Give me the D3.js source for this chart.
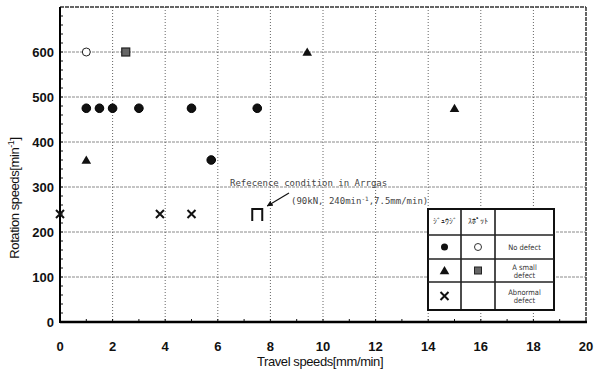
<!DOCTYPE html>
<html>
<head>
<meta charset="utf-8">
<script src="https://cdn.jsdelivr.net/npm/d3@7"></script>
<style>
  html, body { margin: 0; padding: 0; background: #fff; }
  svg { display: block; }
  .tick-lbl { font-family: "Liberation Sans", Arial, sans-serif; font-weight: 700; font-size: 13px; fill: #111; }
  .axis-title { font-family: "Liberation Sans", Arial, sans-serif; font-size: 13px; fill: #111; letter-spacing: -0.4px; }
  .note { font-family: "DejaVu Sans Mono", monospace; font-size: 9px; fill: #444; }
  .leg { font-family: "DejaVu Sans Condensed", sans-serif; font-size: 7.5px; fill: #333; }
</style>
</head>
<body>
<svg id="chart" width="595" height="372"></svg>
<script>
// data: [travel speed mm/min, rotation speed min^-1]
const xTicks = [0, 2, 4, 6, 8, 10, 12, 14, 16, 18, 20];
const yTicks = [0, 100, 200, 300, 400, 500, 600];
const noDefectA = [[1, 475], [1.5, 475], [2, 475], [3, 475], [5, 475], [7.5, 475], [5.75, 360]];
const noDefectB = [[1, 600]];
const smallDefectA = [[1, 360], [9.4, 600], [15, 475]];
const smallDefectB = [[2.5, 600]];
const abnormalDefect = [[0, 240], [3.8, 240], [5, 240]];
const referencePoint = [[7.5, 240]];
const legendHeaders = ['ｼﾞｭｳｼﾞ', 'ｽﾎﾟｯﾄ'];
const legendRows = [['No defect'], ['A small', 'defect'], ['Abnormal', 'defect']];

const width = 595, height = 372;
const margin = { top: 7, right: 9, bottom: 50, left: 60 };
const iw = width - margin.left - margin.right;
const ih = height - margin.top - margin.bottom;

const svg = d3.select('#chart');
const x = d3.scaleLinear().domain([0, 20]).range([0, iw]);
const y = d3.scaleLinear().domain([0, 700]).range([ih, 0]);

const g = svg.append('g').attr('transform', `translate(${margin.left},${margin.top})`);

// grid
g.append('g').selectAll('line').data(yTicks.filter(d => d > 0)).enter().append('line')
  .attr('x1', 0).attr('x2', iw).attr('y1', d => y(d)).attr('y2', d => y(d))
  .attr('stroke', '#8a8a8a').attr('stroke-width', 1).attr('stroke-dasharray', '3,1');
g.append('g').selectAll('line').data(xTicks.filter(d => d > 0 && d < 20)).enter().append('line')
  .attr('y1', 0).attr('y2', ih).attr('x1', d => x(d)).attr('x2', d => x(d))
  .attr('stroke', '#666').attr('stroke-width', 1).attr('stroke-dasharray', '1,2');

// frame: top / right thinner, bottom / left heavy
g.append('line').attr('x1', 0).attr('x2', iw).attr('y1', 0).attr('y2', 0)
  .attr('stroke', '#333').attr('stroke-width', 1.5).attr('stroke-dasharray', '4,1');
g.append('line').attr('x1', iw).attr('x2', iw).attr('y1', 0).attr('y2', ih)
  .attr('stroke', '#333').attr('stroke-width', 1.5).attr('stroke-dasharray', '4,1');

// minor ticks (inside)
g.append('g').selectAll('line').data(d3.range(1, 20)).enter().append('line')
  .attr('x1', d => x(d)).attr('x2', d => x(d)).attr('y1', ih).attr('y2', ih - 3)
  .attr('stroke', '#111').attr('stroke-width', 1);
g.append('g').selectAll('line').data(d3.range(20, 700, 20)).enter().append('line')
  .attr('y1', d => y(d)).attr('y2', d => y(d)).attr('x1', 0).attr('x2', 3)
  .attr('stroke', '#111').attr('stroke-width', 1);

g.append('line').attr('x1', 0).attr('x2', iw + 1).attr('y1', ih).attr('y2', ih)
  .attr('stroke', '#000').attr('stroke-width', 2.5);
g.append('line').attr('x1', 0).attr('x2', 0).attr('y1', 0).attr('y2', ih + 1)
  .attr('stroke', '#000').attr('stroke-width', 2);

// tick labels
g.append('g').selectAll('text').data(xTicks).enter().append('text')
  .attr('class', 'tick-lbl').attr('x', d => x(d)).attr('y', ih + 29)
  .attr('text-anchor', 'middle').text(d => d);
g.append('g').selectAll('text').data(yTicks).enter().append('text')
  .attr('class', 'tick-lbl').attr('x', -6).attr('y', d => y(d) + 5)
  .attr('text-anchor', 'end').text(d => d);

// axis titles
svg.append('text').attr('class', 'axis-title')
  .attr('x', 320).attr('y', 366).attr('text-anchor', 'middle')
  .text('Travel speeds[mm/min]');
const yt = svg.append('text').attr('class', 'axis-title')
  .attr('transform', 'translate(19,198) rotate(-90)').attr('text-anchor', 'middle');
yt.append('tspan').text('Rotation speeds[min');
yt.append('tspan').attr('font-size', '9px').attr('dy', -5).text('-1');
yt.append('tspan').attr('dy', 5).text(']');

// markers
const tri = d3.symbol().type(d3.symbolTriangle).size(40);
const pos = d => `translate(${x(d[0])},${y(d[1])})`;

g.append('g').selectAll('circle').data(noDefectA).enter().append('circle')
  .attr('cx', d => x(d[0])).attr('cy', d => y(d[1])).attr('r', 4.3)
  .attr('fill', '#111').attr('stroke', '#000');
g.append('g').selectAll('circle').data(noDefectB).enter().append('circle')
  .attr('cx', d => x(d[0])).attr('cy', d => y(d[1])).attr('r', 4)
  .attr('fill', '#fff').attr('stroke', '#222').attr('stroke-width', 1);
g.append('g').selectAll('path').data(smallDefectA).enter().append('path')
  .attr('d', tri).attr('transform', d => `${pos(d)} translate(0,1)`).attr('fill', '#111');
g.append('g').selectAll('rect').data(smallDefectB).enter().append('rect')
  .attr('x', d => x(d[0]) - 4).attr('y', d => y(d[1]) - 4).attr('width', 8).attr('height', 8)
  .attr('fill', '#666').attr('stroke', '#222').attr('stroke-width', 1.2);
g.append('g').selectAll('path').data(abnormalDefect).enter().append('path')
  .attr('d', 'M-4,-4L4,4M4,-4L-4,4').attr('transform', pos)
  .attr('stroke', '#111').attr('stroke-width', 2).attr('fill', 'none');
g.append('g').selectAll('path').data(referencePoint).enter().append('path')
  .attr('d', 'M-5,7V-5H5V7').attr('transform', pos)
  .attr('stroke', '#111').attr('stroke-width', 2).attr('fill', 'none');

// reference condition note
const rp = referencePoint[0];
svg.append('text').attr('class', 'note').attr('x', 230).attr('y', 186)
  .text('Refecence condition in Arrgas');
svg.append('text').attr('class', 'note').attr('x', 291).attr('y', 204)
  .html('(90kN, 240min<tspan dy="-3" font-size="6px">-1</tspan><tspan dy="3">,7.5mm/min)</tspan>');
svg.append('defs').append('marker').attr('id', 'ah')
  .attr('viewBox', '0 0 10 10').attr('refX', 9).attr('refY', 5)
  .attr('markerWidth', 5).attr('markerHeight', 5).attr('orient', 'auto')
  .append('path').attr('d', 'M0,0L10,5L0,10z').attr('fill', '#111');
svg.append('line').attr('x1', 289).attr('y1', 193)
  .attr('x2', margin.left + x(rp[0]) + 10).attr('y2', margin.top + y(rp[1]) - 8)
  .attr('stroke', '#111').attr('stroke-width', 1.2).attr('marker-end', 'url(#ah)');

// legend table
const lx = 428, ly = 209;
const colW = [33, 34, 59];
const rowH = [26, 24, 23, 28];
const lg = svg.append('g').attr('transform', `translate(${lx},${ly})`);
const tw = d3.sum(colW), th = d3.sum(rowH);
lg.append('rect').attr('width', tw).attr('height', th)
  .attr('fill', '#fff').attr('stroke', '#111').attr('stroke-width', 2);
const cx = d3.cumsum(colW), cy = d3.cumsum(rowH);
lg.selectAll('.vl').data(cx.slice(0, 2)).enter().append('line')
  .attr('x1', d => d).attr('x2', d => d).attr('y1', 0).attr('y2', th)
  .attr('stroke', '#111').attr('stroke-width', 1.5);
lg.selectAll('.hl').data(cy.slice(0, 3)).enter().append('line')
  .attr('x1', 0).attr('x2', tw).attr('y1', d => d).attr('y2', d => d)
  .attr('stroke', '#222').attr('stroke-width', 1.3);
legendHeaders.forEach((h, i) => {
  lg.append('text').attr('class', 'leg').attr('font-size', '6px').attr('fill', '#777')
    .attr('x', (cx[i] - colW[i] / 2)).attr('y', rowH[0] / 2 + 2)
    .attr('text-anchor', 'middle').text(h);
});
legendRows.forEach((lines, i) => {
  const top = cy[i], mid = top + rowH[i + 1] / 2;
  const t = lg.append('text').attr('class', 'leg').attr('text-anchor', 'middle')
    .attr('x', cx[1] + colW[2] / 2).attr('y', mid + (lines.length === 1 ? 3 : -1));
  lines.forEach((s, j) => t.append('tspan').attr('x', cx[1] + colW[2] / 2).attr('dy', j ? 8 : 0).text(s));
});
const c1 = colW[0] / 2, c2 = cx[0] + colW[1] / 2;
const m1 = cy[0] + rowH[1] / 2, m2 = cy[1] + rowH[2] / 2, m3 = cy[2] + rowH[3] / 2;
lg.append('circle').attr('cx', c1).attr('cy', m1).attr('r', 3.5).attr('fill', '#111');
lg.append('circle').attr('cx', c2).attr('cy', m1).attr('r', 3.5).attr('fill', '#fff').attr('stroke', '#333');
lg.append('path').attr('d', tri).attr('transform', `translate(${c1},${m2 + 1})`).attr('fill', '#111');
lg.append('rect').attr('x', c2 - 3.5).attr('y', m2 - 3.5).attr('width', 7).attr('height', 7)
  .attr('fill', '#666').attr('stroke', '#222');
lg.append('path').attr('d', 'M-4,-4L4,4M4,-4L-4,4').attr('transform', `translate(${c1},${m3})`)
  .attr('stroke', '#111').attr('stroke-width', 2);
</script>
</body>
</html>
